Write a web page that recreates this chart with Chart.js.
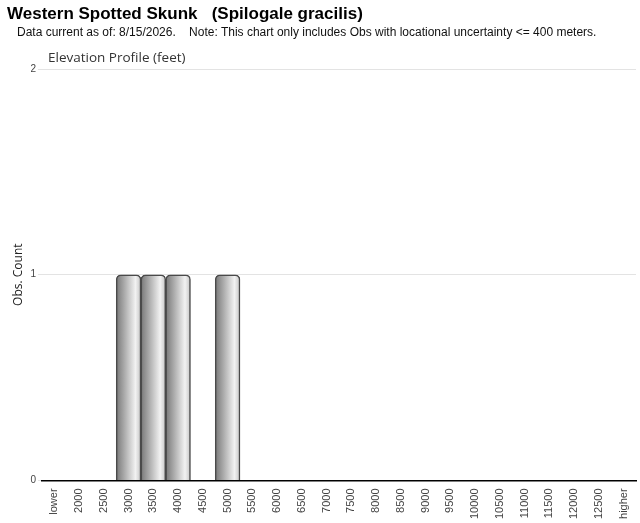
<!DOCTYPE html>
<html>
<head>
<meta charset="utf-8">
<script src="https://cdn.jsdelivr.net/npm/chart.js@4/dist/chart.umd.min.js"></script>
<style>
  body { margin: 0; background: #fff; }
  #wrap { position: relative; width: 640px; height: 523px; }
  #chart { position: absolute; left: 0; top: 0; }
  .txt { position: absolute; white-space: nowrap; }
  #title { left: 7px; top: 4px; font: bold 17px "Liberation Sans", Arial, sans-serif; color: #000; }
  #sub { left: 17px; top: 25px; font: 12px "Liberation Sans", Arial, sans-serif; color: #111; }
  #elev { left: 48px; top: 48px; font: 13.5px "Open Sans", sans-serif; color: #333; }
</style>
</head>
<body>
<div id="wrap">
  <canvas id="chart" width="640" height="523"></canvas>
  <div class="txt" id="title">Western Spotted Skunk &nbsp; (Spilogale gracilis)</div>
  <div class="txt" id="sub">Data current as of: 8/15/2026. &nbsp;&nbsp; Note: This chart only includes Obs with locational uncertainty &lt;= 400 meters.</div>
  <div class="txt" id="elev">Elevation Profile (feet)</div>
</div>
<script>
const elevations = ['lower', '2000', '2500', '3000', '3500', '4000', '4500', '5000', '5500', '6000',
  '6500', '7000', '7500', '8000', '8500', '9000', '9500', '10000', '10500', '11000', '11500',
  '12000', '12500', 'higher']
const obsCounts = [0, 0, 0, 1, 1, 1, 0, 1, 0, 0, 0, 0, 0, 0, 0, 0, 0, 0, 0, 0, 0, 0, 0, 0]
const yTicks = [0, 1, 2]

const barFill = (context) => {
  const chart = context.chart
  if (!chart.chartArea) return '#aaaaaa'
  const xs = chart.scales.x
  const cx = xs.getPixelForValue(context.dataIndex)
  const w = xs.width / elevations.length
  const g = chart.ctx.createLinearGradient(cx - w / 2, 0, cx + w / 2, 0)
  g.addColorStop(0, '#787878')
  g.addColorStop(0.3, '#a6a6a6')
  g.addColorStop(0.78, '#f2f2f2')
  g.addColorStop(1, '#c4c4c4')
  return g
}

const context = document.getElementById('chart').getContext('2d')
const chart = new Chart(context, {
  type: 'bar',
  data: {
    labels: elevations,
    datasets: [{
      label: 'Obs. Count',
      data: obsCounts,
      backgroundColor: barFill,
      borderColor: '#4a4a4a',
      borderWidth: 1.5,
      borderSkipped: 'bottom',
      borderRadius: { topLeft: 5, topRight: 5, bottomLeft: 0, bottomRight: 0 },
      barPercentage: 1,
      categoryPercentage: 1
    }]
  },
  options: {
    responsive: false,
    animation: false,
    layout: { padding: { top: 69, right: 4, left: 11, bottom: 1 } },
    plugins: {
      legend: { display: false },
      tooltip: { enabled: false }
    },
    scales: {
      x: {
        grid: { display: false, drawTicks: true, tickLength: 5, tickColor: '#000' },
        border: { display: true, color: '#000', width: 1.5 },
        ticks: {
          minRotation: 90,
          maxRotation: 90,
          autoSkip: false,
          color: '#444',
          font: { family: 'Liberation Sans, Arial, sans-serif', size: 11 }
        }
      },
      y: {
        min: 0,
        max: 2,
        afterBuildTicks: (axis) => { axis.ticks = yTicks.map(v => ({ value: v })) },
        grid: { color: '#e3e3e3', tickLength: 4, tickColor: '#e3e3e3' },
        border: { display: false },
        ticks: {
          stepSize: 1,
          color: '#444',
          padding: 2,
          font: { family: 'Liberation Sans, Arial, sans-serif', size: 10 }
        },
        title: {
          display: true,
          text: 'Obs. Count',
          color: '#222',
          padding: { top: 0, bottom: 3 },
          font: { family: 'Open Sans, sans-serif', size: 12 }
        }
      }
    }
  }
})
</script>
</body>
</html>
